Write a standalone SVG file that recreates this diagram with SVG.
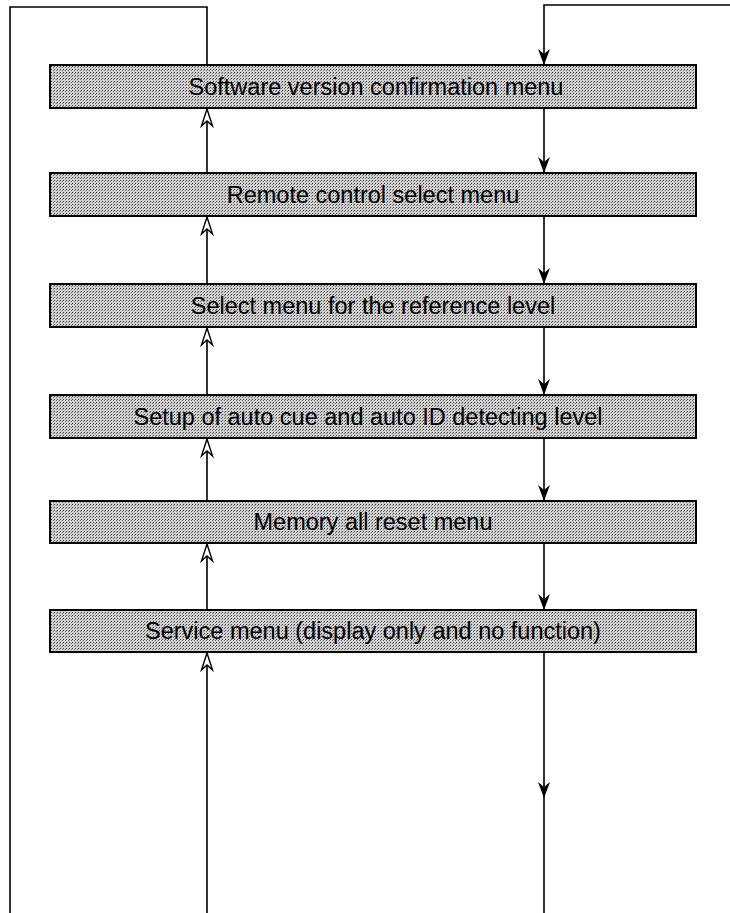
<svg xmlns="http://www.w3.org/2000/svg" width="730" height="913" viewBox="0 0 730 913">
<defs>
<pattern id="dots" width="3" height="3" patternUnits="userSpaceOnUse">
<rect width="3" height="3" fill="#cfcfcf"/>
<rect x="0" y="0" width="1" height="1" fill="#444"/>
<rect x="2" y="1" width="1" height="1" fill="#777"/>
</pattern>
</defs>
<style>
.box{fill:url(#dots);stroke:#000;stroke-width:2}
.lbl{font-family:"Liberation Sans",Arial,sans-serif;font-size:23.5px;fill:#000;text-anchor:middle}
.ln{fill:none;stroke:#000;stroke-width:1.6}
.up{fill:#fff;stroke:#000;stroke-width:1.4}
.dn{fill:#000}
</style>
<g id="connectors">
<path class="ln" d="M207,65 V7 H10 V913"/>
<path class="ln" d="M730,5 H544 V65"/>
<path class="ln" d="M207,108 V173 M207,216 V284 M207,327 V395 M207,438 V501 M207,543 V610 M207,652 V913"/>
<path class="ln" d="M544,108 V173 M544,216 V284 M544,327 V395 M544,438 V501 M544,543 V610 M544,652 V913"/>
<g id="up-arrows">
<path class="up" d="M207,109 L212.5,126 L207,121 L201.5,126 Z"/>
<path class="up" d="M207,217 L212.5,234 L207,229 L201.5,234 Z"/>
<path class="up" d="M207,328 L212.5,345 L207,340 L201.5,345 Z"/>
<path class="up" d="M207,439 L212.5,456 L207,451 L201.5,456 Z"/>
<path class="up" d="M207,544 L212.5,561 L207,556 L201.5,561 Z"/>
<path class="up" d="M207,653 L212.5,670 L207,665 L201.5,670 Z"/>
</g>
<g id="down-arrows">
<path class="dn" d="M544,65 L538,49 L544,54 L550,49 Z"/>
<path class="dn" d="M544,173 L538,157 L544,162 L550,157 Z"/>
<path class="dn" d="M544,284 L538,268 L544,273 L550,268 Z"/>
<path class="dn" d="M544,395 L538,379 L544,384 L550,379 Z"/>
<path class="dn" d="M544,501 L538,485 L544,490 L550,485 Z"/>
<path class="dn" d="M544,610 L538,594 L544,599 L550,594 Z"/>
<path class="dn" d="M544,798 L538,782 L544,787 L550,782 Z"/>
</g>
</g>
<g id="n1"><rect class="box" x="50" y="65" width="646" height="43"/><text class="lbl" x="376" y="95">Software version confirmation menu</text></g>
<g id="n2"><rect class="box" x="50" y="173" width="646" height="43"/><text class="lbl" x="373" y="203">Remote control select menu</text></g>
<g id="n3"><rect class="box" x="50" y="284" width="646" height="43"/><text class="lbl" x="373" y="314">Select menu for the reference level</text></g>
<g id="n4"><rect class="box" x="50" y="395" width="646" height="43"/><text class="lbl" x="368" y="425">Setup of auto cue and auto ID detecting level</text></g>
<g id="n5"><rect class="box" x="50" y="501" width="646" height="42"/><text class="lbl" x="373" y="530">Memory all reset menu</text></g>
<g id="n6"><rect class="box" x="50" y="610" width="646" height="42"/><text class="lbl" x="373" y="639">Service menu (display only and no function)</text></g>
</svg>
